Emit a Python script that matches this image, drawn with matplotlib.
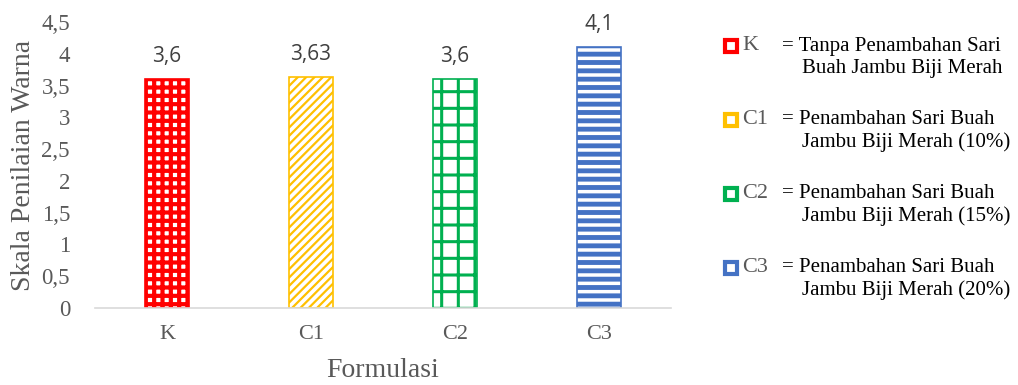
import matplotlib.pyplot as plt
from matplotlib.patches import Rectangle

# data
categories = ['K', 'C1', 'C2', 'C3']
values = [3.6, 3.63, 3.6, 4.1]
value_labels = ['3,6', '3,63', '3,6', '4,1']
colors = ['#ff0000', '#ffc000', '#00b050', '#4472c4']
hatches = ['++', '////', '+', '--']
hatch_lw = [3.0, 1.6, 2.2, 3.5]
legend_desc = [
    ['= Tanpa Penambahan Sari', 'Buah Jambu Biji Merah'],
    ['= Penambahan Sari Buah', 'Jambu Biji Merah (10%)'],
    ['= Penambahan Sari Buah', 'Jambu Biji Merah (15%)'],
    ['= Penambahan Sari Buah', 'Jambu Biji Merah (20%)'],
]
yticks = [0, 0.5, 1, 1.5, 2, 2.5, 3, 3.5, 4, 4.5]
ytick_labels = ['0', '0,5', '1', '1,5', '2', '2,5', '3', '3,5', '4', '4,5']

W, H = 1018, 385
fig = plt.figure(figsize=(W / 100, H / 100), dpi=100)
ax = fig.add_axes([95 / W, 1 - 308 / H, 576 / W, 286 / H])

for i, v in enumerate(values):
    with plt.rc_context({'hatch.linewidth': hatch_lw[i]}):
        ax.bar(i, v, width=0.31, facecolor='white', edgecolor=colors[i],
               hatch=hatches[i], linewidth=1.2)
    ax.annotate(value_labels[i], (i, v), xytext=(0, 9), textcoords='offset points',
                ha='center', va='bottom', fontsize=15, color='#404040',
                family='Open Sans')

ax.set_xlim(-0.5, 3.5)
ax.set_ylim(0, 4.5)
ax.set_xticks(range(len(categories)))
ax.set_xticklabels(categories, family='Liberation Serif', fontsize=16, color='#595959')
ax.set_yticks(yticks)
ax.set_yticklabels(ytick_labels, family='Liberation Serif', fontsize=16.5, color='#595959')
ax.tick_params(axis='y', length=0, pad=18)
ax.tick_params(axis='x', length=0, pad=12)
for s in ['top', 'right', 'left']:
    ax.spines[s].set_visible(False)
ax.spines['bottom'].set_color('#d9d9d9')
ax.spines['bottom'].set_linewidth(1.2)
ax.set_ylabel('Skala Penilaian Warna', family='Liberation Serif', fontsize=20,
              color='#595959', labelpad=4)
ax.set_xlabel('Formulasi', family='Liberation Serif', fontsize=20,
              color='#595959', labelpad=10)

# legend drawn by hand
rows_y = [46, 120, 194, 268]
for i, cat in enumerate(categories):
    y = rows_y[i]
    fig.patches.append(Rectangle((725 / W, 1 - (y + 6) / H), 12 / W, 12 / H,
                                 transform=fig.transFigure, facecolor='white',
                                 edgecolor=colors[i], linewidth=3))
    fig.text(742 / W, 1 - y / H, cat, family='Liberation Serif', fontsize=16,
             color='#595959', va='center')
    fig.text(782 / W, 1 - y / H, legend_desc[i][0], family='Liberation Serif',
             fontsize=15, color='black', va='center')
    fig.text(802 / W, 1 - (y + 22) / H, legend_desc[i][1], family='Liberation Serif',
             fontsize=15, color='black', va='center')

fig.savefig('out.png', dpi=100)
